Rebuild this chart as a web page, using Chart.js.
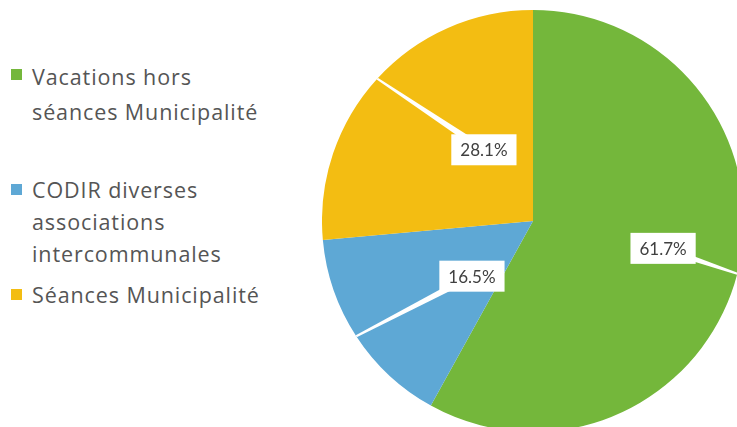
<!DOCTYPE html>
<html>
<head>
<meta charset="utf-8">
<script src="https://cdn.jsdelivr.net/npm/chart.js@4"></script>
<style>
html, body { margin: 0; padding: 0; width: 737px; height: 427px; overflow: hidden; background: #fff; }
#pie { position: absolute; left: 322px; top: 10px; width: 422px; height: 422px; }
#leyenda { position: absolute; left: 0; top: 0; font-family: 'Open Sans', sans-serif; font-size: 21.5px; letter-spacing: 0.9px; color: #555; }
.item { position: absolute; left: 11px; white-space: nowrap; line-height: 32px; }
.cuadro { position: absolute; left: 0; top: 10px; width: 11px; height: 11px; }
.texto { position: absolute; left: 21px; top: 0; }
</style>
</head>
<body>
<div id="leyenda"></div>
<div id="pie"><canvas id="lienzo"></canvas></div>
<script>
// datos
const categorias = [
    ['Vacations hors', 'séances Municipalité'],
    ['CODIR diverses', 'associations', 'intercommunales'],
    ['Séances Municipalité']
]
const porcentajes = [61.7, 16.5, 28.1]
const colores = ['#74b73b', '#5ea8d5', '#f3bd12']

// posicion de la leyenda (y de cada item) y de las etiquetas
const leyendaTop = [59, 174, 279]
const etiquetaPos = [
    { r: 0.63, giro: -2.6 },
    { r: 0.39, giro: -9 },
    { r: 0.41, giro: 13 }
]

const leyenda = document.getElementById('leyenda')
categorias.forEach((lineas, i) => {
    const item = document.createElement('div')
    item.className = 'item'
    item.style.top = leyendaTop[i] + 'px'
    if (i == 0) item.style.lineHeight = '35px'
    const cuadro = document.createElement('div')
    cuadro.className = 'cuadro'
    cuadro.style.background = colores[i]
    const texto = document.createElement('div')
    texto.className = 'texto'
    texto.innerHTML = lineas.join('<br>')
    item.appendChild(cuadro)
    item.appendChild(texto)
    leyenda.appendChild(item)
})

const etiquetas = {
    id: 'etiquetas',
    afterDatasetsDraw(chart) {
        const ctx = chart.ctx
        const meta = chart.getDatasetMeta(0)
        ctx.save()
        ctx.font = '17px Lato, sans-serif'
        ctx.textAlign = 'center'
        ctx.textBaseline = 'middle'
        meta.data.forEach((arco, i) => {
            const R = arco.outerRadius
            const medio = (arco.startAngle + arco.endAngle) / 2
            const bx = arco.x + Math.cos(medio) * R
            const by = arco.y + Math.sin(medio) * R
            const ang = medio + etiquetaPos[i].giro * Math.PI / 180
            const cx = arco.x + Math.cos(ang) * R * etiquetaPos[i].r
            const cy = arco.y + Math.sin(ang) * R * etiquetaPos[i].r

            // linea guia
            const dx = bx - cx, dy = by - cy
            const largo = Math.hypot(dx, dy)
            const nx = -dy / largo, ny = dx / largo
            ctx.fillStyle = '#fff'
            ctx.beginPath()
            ctx.moveTo(cx + nx * 3.5, cy + ny * 3.5)
            ctx.lineTo(bx + nx * 1, by + ny * 1)
            ctx.lineTo(bx - nx * 1, by - ny * 1)
            ctx.lineTo(cx - nx * 3.5, cy - ny * 3.5)
            ctx.closePath()
            ctx.fill()

            const txt = porcentajes[i].toFixed(1) + '%'
            const w = ctx.measureText(txt).width + 18
            const h = 31
            ctx.fillRect(cx - w / 2, cy - h / 2, w, h)
            ctx.fillStyle = '#404040'
            ctx.fillText(txt, cx, cy + 1)
        })
        ctx.restore()
    }
}

new Chart(document.getElementById('lienzo'), {
    type: 'pie',
    data: {
        labels: categorias,
        datasets: [{
            data: porcentajes,
            backgroundColor: colores,
            borderWidth: 0
        }]
    },
    options: {
        responsive: true,
        maintainAspectRatio: false,
        animation: false,
        layout: { padding: 0 },
        plugins: {
            legend: { display: false },
            tooltip: { enabled: false }
        }
    },
    plugins: [etiquetas]
})
</script>
</body>
</html>
